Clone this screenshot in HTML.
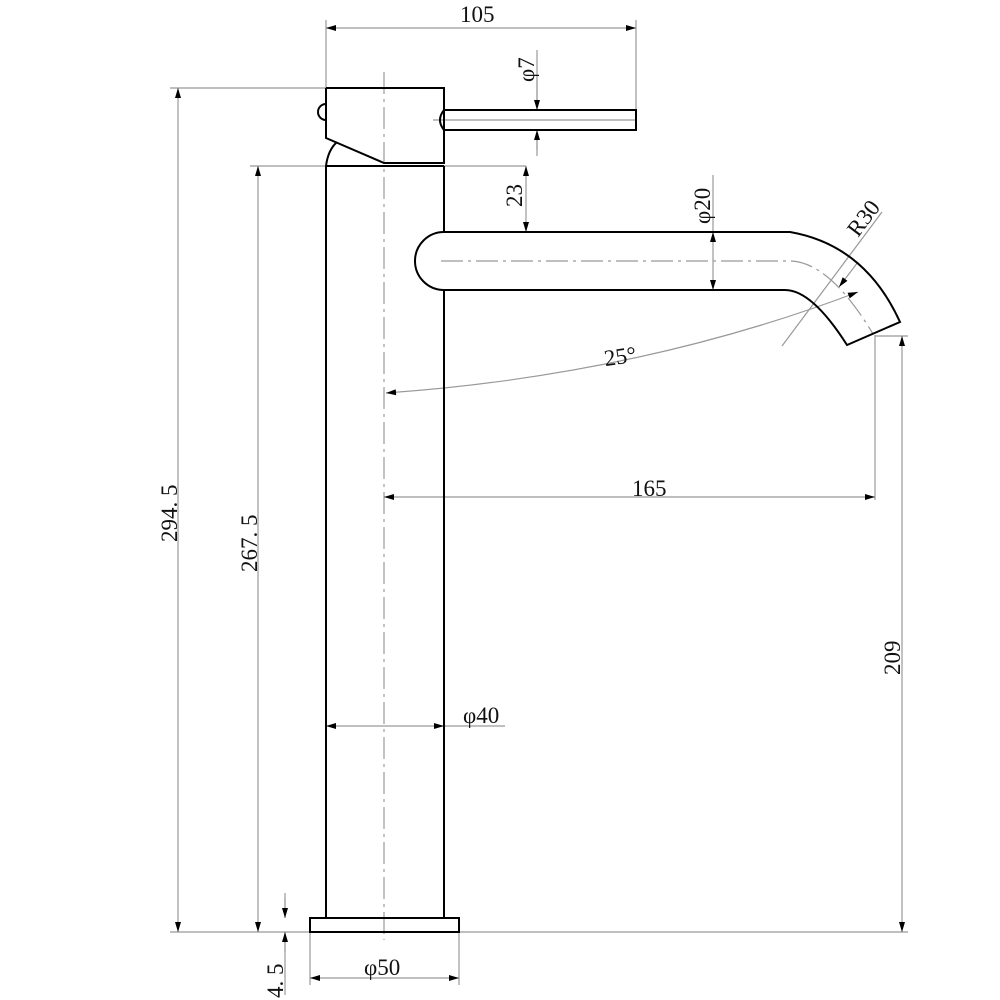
<!DOCTYPE html>
<html><head><meta charset="utf-8"><style>
html,body{margin:0;padding:0;background:#fff}
svg{display:block}
text{font-family:"Liberation Serif",serif;font-size:23px;fill:#111}
</style></head><body>
<svg width="1000" height="1000" viewBox="0 0 1000 1000" xmlns="http://www.w3.org/2000/svg">
<defs>
<marker id="a" viewBox="0 0 10 6" refX="10" refY="3" markerWidth="12" markerHeight="6" markerUnits="userSpaceOnUse" orient="auto-start-reverse"><path d="M0,0 L10,3 L0,6z" fill="#000"/></marker>
</defs>
<g stroke="#999" stroke-width="1.2" fill="none">
<line x1="326" y1="20" x2="326" y2="88"/>
<line x1="636" y1="20" x2="636" y2="120"/>
<line x1="170" y1="88" x2="326" y2="88"/>
<line x1="250" y1="166" x2="526" y2="166"/>
<line x1="170" y1="932" x2="908" y2="932"/>
<line x1="875" y1="335" x2="875" y2="500"/>
<line x1="875" y1="336" x2="908" y2="336"/>
<line x1="310" y1="932" x2="310" y2="985"/>
<line x1="459" y1="932" x2="459" y2="985"/>
<line x1="444" y1="726" x2="505" y2="726"/>
<line x1="713" y1="175" x2="713" y2="232"/>
<line x1="537" y1="50" x2="537" y2="110"/>
<line x1="537" y1="130" x2="537" y2="156"/>
<line x1="285" y1="893" x2="285" y2="918"/>
<line x1="285" y1="932" x2="285" y2="995"/>
<line x1="782" y1="346" x2="882" y2="212"/>
<line x1="384" y1="72" x2="384" y2="940" stroke-dasharray="22,5,3,5"/>
<path d="M441,261 L790,261 Q830,262 873,334" stroke-dasharray="22,5,3,5"/>
<line x1="433" y1="120" x2="636" y2="120"/>
</g>
<g stroke="#999" stroke-width="1.2" fill="none">
<line x1="326" y1="28" x2="636" y2="28" marker-start="url(#a)" marker-end="url(#a)"/>
<line x1="178" y1="88" x2="178" y2="932" marker-start="url(#a)" marker-end="url(#a)"/>
<line x1="258" y1="166" x2="258" y2="932" marker-start="url(#a)" marker-end="url(#a)"/>
<line x1="526" y1="166" x2="526" y2="232" marker-start="url(#a)" marker-end="url(#a)"/>
<line x1="713" y1="232" x2="713" y2="290" marker-start="url(#a)" marker-end="url(#a)"/>
<line x1="384" y1="497" x2="875" y2="497" marker-start="url(#a)" marker-end="url(#a)"/>
<line x1="902" y1="336" x2="902" y2="932" marker-start="url(#a)" marker-end="url(#a)"/>
<line x1="326" y1="726" x2="444" y2="726" marker-start="url(#a)" marker-end="url(#a)"/>
<line x1="310" y1="978" x2="459" y2="978" marker-start="url(#a)" marker-end="url(#a)"/>
<line x1="537" y1="80" x2="537" y2="110" marker-end="url(#a)"/>
<line x1="537" y1="150" x2="537" y2="130" marker-end="url(#a)"/>
<line x1="285" y1="898" x2="285" y2="918" marker-end="url(#a)"/>
<line x1="285" y1="952" x2="285" y2="932" marker-end="url(#a)"/>
<line x1="858" y1="262" x2="839" y2="287" marker-end="url(#a)"/>
<path d="M858,292 Q640,375 386,393" marker-start="url(#a)" marker-end="url(#a)"/>
</g>
<g stroke="#000" stroke-width="2" fill="none">
<path d="M326,88 L444,88 L444,164"/>
<path d="M326,88 L326,138 L384,163 L444,163"/>
<path d="M326,104 A8,8 0 0 0 326,120"/>
<path d="M326,166 Q328,150 337,142"/>
<path d="M444,110 L636,110 L636,130 L444,130 Q436,120 444,110"/>
<path d="M326,166 L444,166 M326,166 L326,918 M444,166 L444,232 M444,290 L444,918"/>
<rect x="310" y="918" width="149" height="14"/>
<path d="M444,232 L790,232 Q865,245 900,322 L847,345 Q812,290 785,290 L444,290 A29,29 0 0 1 444,232"/>
</g>
<text x="460" y="22">105</text>
<text x="632" y="496">165</text>
<text x="463" y="723">φ40</text>
<text x="364" y="975">φ50</text>
<text x="604" y="364" transform="rotate(-8 620 356)">25°</text>
<text transform="translate(534,82) rotate(-90)">φ7</text>
<text transform="translate(522,207) rotate(-90)">23</text>
<text transform="translate(710,224) rotate(-90)">φ20</text>
<text transform="translate(858,238) rotate(-53)">R30</text>
<text transform="translate(177,542) rotate(-90)">294. 5</text>
<text transform="translate(257,572) rotate(-90)">267. 5</text>
<text transform="translate(900,675) rotate(-90)">209</text>
<text transform="translate(283,998) rotate(-90)">4. 5</text>
</svg>
</body></html>
